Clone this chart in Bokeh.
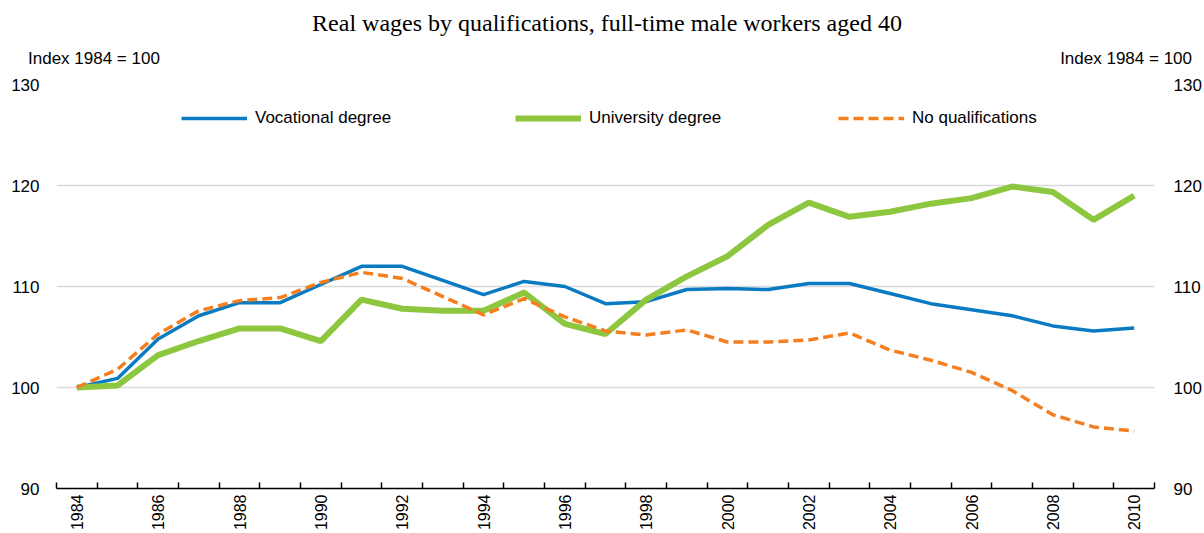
import math
from bokeh.plotting import figure
from bokeh.layouts import column
from bokeh.models import (FixedTicker, LinearAxis, Legend, LegendItem, Range1d, Div)
from bokeh.embed import file_html
from bokeh.resources import INLINE

years = list(range(1984, 2011))
vocational = [100.0, 100.9, 104.8, 107.1, 108.4, 108.4, 110.2, 112.0, 112.0, 110.6, 109.2, 110.5,
              110.0, 108.3, 108.5, 109.7, 109.8, 109.7, 110.3, 110.3, 109.3, 108.3, 107.7, 107.1,
              106.1, 105.6, 105.9]
university = [100.0, 100.2, 103.2, 104.6, 105.85, 105.85, 104.6, 108.7, 107.8, 107.6, 107.6, 109.4,
              106.3, 105.3, 108.7, 111.0, 113.0, 116.1, 118.3, 116.9, 117.4, 118.2, 118.75, 119.9,
              119.35, 116.6, 119.0]
no_qual = [100.0, 101.8, 105.3, 107.6, 108.6, 108.9, 110.4, 111.4, 110.8, 109.0, 107.2, 108.8,
           107.0, 105.6, 105.2, 105.7, 104.5, 104.5, 104.7, 105.4, 103.7, 102.7, 101.5, 99.7,
           97.3, 96.1, 95.7]
y_ticks = [90, 100, 110, 120, 130]
label_years = list(range(1984, 2011, 2))
title_text = "Real wages by qualifications, full-time male workers aged 40"
unit_text = "Index 1984 = 100"

SANS = "'Liberation Sans Narrow', 'Arial Narrow', 'Liberation Sans', sans-serif"
SERIF = "'Liberation Serif', 'Times New Roman', serif"

W = 1204
HEAD_H = 70

# ---- header (title and unit labels) ----
head_html = (
    f'<div style="position:relative;width:{W}px;height:{HEAD_H}px;color:#000;">'
    f'<div style="position:absolute;left:10px;width:{W - 10}px;top:11px;text-align:center;'
    f'font-family:{SERIF};font-size:24px;line-height:24px;white-space:nowrap;">{title_text}</div>'
    f'<div style="position:absolute;left:28px;top:50px;font-family:{SANS};font-size:17px;'
    f'line-height:17px;white-space:nowrap;">{unit_text}</div>'
    f'<div style="position:absolute;right:12px;top:50px;font-family:{SANS};font-size:17px;'
    f'line-height:17px;white-space:nowrap;text-align:right;">{unit_text}</div>'
    '</div>'
)
head = Div(text=head_html, width=W, height=HEAD_H, margin=(0, 0, 0, 0))

# ---- main chart ----
p = figure(width=W, height=533 - HEAD_H, output_backend="svg", toolbar_location=None,
           x_range=Range1d(years[0] - 0.5, years[-1] + 0.5), y_range=Range1d(90, 130),
           min_border_left=56, min_border_right=49, min_border_top=14, min_border_bottom=43)
p.outline_line_color = None

xa = p.xaxis[0]
xa.ticker = FixedTicker(ticks=label_years, minor_ticks=[y - 0.5 for y in years] + [years[-1] + 0.5])
xa.major_tick_in = 0
xa.major_tick_out = 0
xa.minor_tick_in = 6
xa.minor_tick_out = 0
xa.minor_tick_line_color = "black"
xa.minor_tick_line_width = 1.5
xa.axis_line_color = "black"
xa.axis_line_width = 1.5
xa.major_label_orientation = math.pi / 2
xa.major_label_standoff = 6
xa.major_label_text_font = SANS
xa.major_label_text_font_size = "16px"
xa.major_label_text_color = "black"

ya = p.yaxis[0]
ra = LinearAxis()
p.add_layout(ra, "right")
for ax, so in ((ya, 17), (ra, 19)):
    ax.ticker = FixedTicker(ticks=y_ticks)
    ax.axis_line_color = None
    ax.major_tick_line_color = None
    ax.major_tick_in = 0
    ax.major_tick_out = 0
    ax.minor_tick_line_color = None
    ax.minor_tick_in = 0
    ax.minor_tick_out = 0
    ax.major_label_standoff = so
    ax.major_label_text_font = SANS
    ax.major_label_text_font_size = "17px"
    ax.major_label_text_color = "black"

p.xgrid.grid_line_color = None
p.ygrid.ticker = FixedTicker(ticks=[100, 110, 120, 130])
p.ygrid.grid_line_color = "#d9d9d9"
p.ygrid.grid_line_width = 1.5

r_voc = p.line(years, vocational, line_color="#0A7BC2", line_width=3.5)
r_uni = p.line(years, university, line_color="#8DC63F", line_width=6)
r_noq = p.line(years, no_qual, line_color="#F47F20", line_width=3.5, line_dash="10 5")

for lab, r, xloc in (("Vocational degree", r_voc, 125), ("University degree", r_uni, 459),
                     ("No qualifications", r_noq, 782)):
    lg = Legend(items=[LegendItem(label=lab, renderers=[r])], location=(xloc, 360),
                orientation="horizontal", border_line_color=None, background_fill_alpha=0,
                padding=0, margin=0, glyph_width=66, glyph_height=20, label_standoff=8,
                label_text_font=SANS, label_text_font_size="17px", label_text_color="black")
    p.add_layout(lg)

layout = column(head, p, spacing=0)
open("out.html", "w").write(file_html(layout, INLINE))
